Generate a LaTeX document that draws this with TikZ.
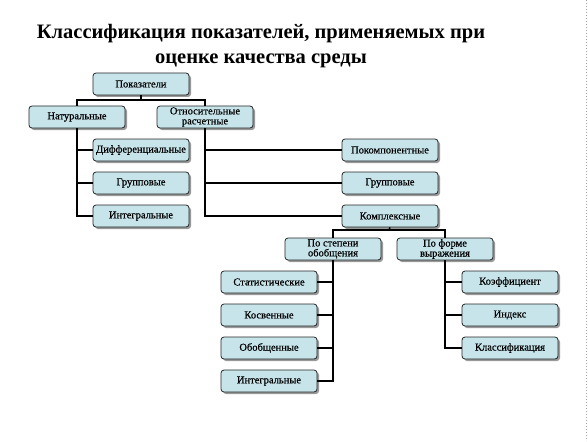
\documentclass[tikz,border=0pt]{standalone}
\usepackage{fontspec}
\setmainfont{Liberation Serif}[BoldFont={Liberation Serif Bold}]
\newfontfamily\boxfont{Liberation Serif}[FakeBold=0.6]
\usetikzlibrary{shadows}
\definecolor{boxfill}{RGB}{198,228,234}
\tikzset{
  bx/.style={draw=black!85, line width=0.8pt, rounded corners=3pt, fill=boxfill,
    minimum width=96pt, minimum height=22pt, inner sep=0pt,
    font=\boxfont\fontsize{10.5}{10}\selectfont, align=center,
    drop shadow={shadow xshift=2pt, shadow yshift=-2pt, fill=black!40, opacity=1}},
  ln/.style={draw=black, line width=1.5pt}
}
\begin{document}
\begin{tikzpicture}[x=1pt,y=-1pt]
\useasboundingbox (0,0) rectangle (588,441);
\draw[black!35, dotted, line width=1pt] (586,0) -- (586,441);
\node[font=\fontsize{20.5}{25}\selectfont\bfseries, align=center] (title) at (261,46)
  {Классификация показателей, применяемых при\\оценке качества среды};

\node[bx] (pok) at (141,84) {Показатели};
\node[bx] (nat) at (77,117) {Натуральные};
\node[bx] (otn) at (205,117) {Относительные\\расчетные};
\node[bx] (dif) at (141,150) {Дифференциальные};
\node[bx] (gr1) at (141,183) {Групповые};
\node[bx] (in1) at (141,216) {Интегральные};
\node[bx] (pkm) at (390,150) {Покомпонентные};
\node[bx] (gr2) at (390,183) {Групповые};
\node[bx] (kom) at (390,216) {Комплексные};
\node[bx] (st) at (333,249) {По степени\\обобщения};
\node[bx] (fo) at (445,249) {По форме\\выражения};
\node[bx] (sta) at (269,282) {Статистические};
\node[bx] (kos) at (269,315) {Косвенные};
\node[bx] (obo) at (269,348) {Обобщенные};
\node[bx] (in2) at (269,381) {Интегральные};
\node[bx] (koe) at (510,282) {Коэффициент};
\node[bx] (ind) at (510,315) {Индекс};
\node[bx] (kla) at (510,348) {Классификация};

\coordinate (b1) at (141,100);
\coordinate (b2) at (389,230);
\draw[ln] (pok.south) -- (b1);
\draw[ln] (nat.north) |- (b1) -| (otn.north);
\draw[ln] (nat.south) |- (in1.west);
\draw[ln] (nat.south |- dif.west) -- (dif.west);
\draw[ln] (nat.south |- gr1.west) -- (gr1.west);
\draw[ln] (otn.south) |- (kom.west);
\draw[ln] (otn.south |- pkm.west) -- (pkm.west);
\draw[ln] (otn.south |- gr2.west) -- (gr2.west);
\draw[ln] (kom.south) -- (b2);
\draw[ln] (st.north) |- (b2) -| (fo.north);
\draw[ln] (st.south) |- (in2.east);
\draw[ln] (st.south |- sta.east) -- (sta.east);
\draw[ln] (st.south |- kos.east) -- (kos.east);
\draw[ln] (st.south |- obo.east) -- (obo.east);
\draw[ln] (fo.south) |- (kla.west);
\draw[ln] (fo.south |- koe.west) -- (koe.west);
\draw[ln] (fo.south |- ind.west) -- (ind.west);
\end{tikzpicture}
\end{document}
